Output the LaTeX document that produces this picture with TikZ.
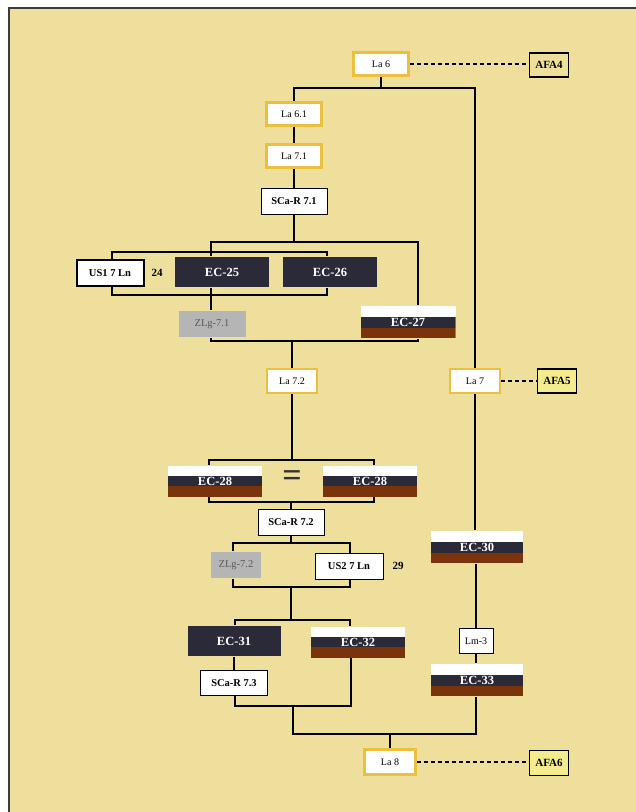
\documentclass[tikz,border=0pt]{standalone}
\usepackage{fontspec}
\setmainfont{Liberation Serif}
\definecolor{paper}{HTML}{EEE09C}
\definecolor{framegray}{HTML}{3C3C3C}
\definecolor{gold}{HTML}{EBC03E}
\definecolor{ecdark}{HTML}{2B2A38}
\definecolor{ecbrown}{HTML}{7A330A}
\definecolor{zgray}{HTML}{B5B5B5}
\definecolor{afafill}{HTML}{F4EC8E}
\begin{document}
\begin{tikzpicture}[x=1pt,y=-1pt,line width=1.2pt,
  labox/.style={draw=gold,line width=2.2pt,fill=white,minimum width=55pt,minimum height=23pt,font=\fontsize{10}{12}\selectfont},
  scabox/.style={draw=black,line width=1pt,fill=white,minimum width=66pt,minimum height=26pt,font=\fontsize{10.5}{12}\selectfont\bfseries},
  usbox/.style={draw=black,line width=1pt,fill=white,minimum width=67pt,minimum height=26pt,font=\fontsize{10.5}{12}\selectfont\bfseries},
  zlgbox/.style={fill=zgray,minimum width=67pt,minimum height=26pt,text=black!65,font=\fontsize{10.5}{12}\selectfont},
  afabox/.style={draw=black,line width=1.2pt,fill=afafill,minimum width=39pt,minimum height=24pt,font=\fontsize{11}{12}\selectfont\bfseries},
  ecdarkbox/.style={fill=ecdark,minimum width=94pt,minimum height=30pt,text=white,font=\fontsize{12.5}{14}\selectfont\bfseries},
  ecstripe/.style={fill=white,minimum width=94pt,minimum height=32pt,text=white,text height=8pt,text depth=0pt,
    font=\fontsize{12.5}{14}\selectfont\bfseries,
    path picture={
      \fill[ecbrown] (path picture bounding box.south west) rectangle ([yshift=10.5pt]path picture bounding box.south east);
      \fill[ecdark] ([yshift=10.5pt]path picture bounding box.south west) rectangle ([yshift=21pt]path picture bounding box.south east);}},
  numlabel/.style={font=\fontsize{11}{12}\selectfont\bfseries},
  link/.style={line width=1.4pt,dash pattern=on 4pt off 3pt}]
\tikzstyle{every node}+=[inner sep=0pt]
\useasboundingbox (0,0) rectangle (636,812);
\fill[white] (0,0) rectangle (636,812);
\fill[paper] (9,8) rectangle (636,812);
\draw[framegray,line width=2pt] (9,812) -- (9,8) -- (636,8);
% right column
\node[labox] (la6) at (381,64) {La 6};
\node[afabox,fill=paper] (afa4) at (549,65) {AFA4};
\node[labox,minimum width=50pt,minimum height=24pt] (la7) at (475,381) {La 7};
\node[afabox] (afa5) at (557,381) {AFA5};
\node[ecstripe,minimum width=92pt] (ec30) at (477,547) {EC-30};
\node[usbox,minimum width=34pt,minimum height=25pt,font=\fontsize{10}{12}\selectfont] (lm3) at (476,641) {Lm-3};
\node[ecstripe,minimum width=92pt] (ec33) at (477,680) {EC-33};
% left column
\node[labox] (la61) at (294,114) {La 6.1};
\node[labox] (la71) at (294,156) {La 7.1};
\node[scabox] (scar71) at (294,201) {SCa-R 7.1};
\node[usbox,line width=2pt] (us1) at (110,273) {US1 7 Ln};
\node[numlabel] (n24) at (157,273) {24};
\node[ecdarkbox] (ec25) at (222,272) {EC-25};
\node[ecdarkbox] (ec26) at (330,272) {EC-26};
\node[zlgbox] (zlg71) at (212,324) {ZLg-7.1};
\node[ecstripe,minimum width=95pt] (ec27) at (408,322) {EC-27};
\node[labox,minimum width=50pt,minimum height=24pt] (la72) at (292,381) {La 7.2};
\node[ecstripe,minimum height=31pt] (ec28a) at (215,481) {EC-28};
\node[font=\fontsize{34}{34}\selectfont\bfseries,text=black!80] (eq) at (292,479) {=};
\node[ecstripe,minimum height=31pt] (ec28b) at (370,481) {EC-28};
\node[scabox] (scar72) at (291,522) {SCa-R 7.2};
\node[zlgbox,minimum width=50pt] (zlg72) at (236,565) {ZLg-7.2};
\node[usbox,minimum width=68pt] (us2) at (349,566) {US2 7 Ln};
\node[numlabel] (n29) at (398,566) {29};
\node[ecdarkbox,minimum width=93pt] (ec31) at (234,641) {EC-31};
\node[ecstripe,minimum height=31pt] (ec32) at (358,642) {EC-32};
\node[scabox,minimum width=67pt,minimum height=25pt] (scar73) at (234,683) {SCa-R 7.3};
\node[labox,minimum width=51pt,minimum height=25pt] (la8) at (390,762) {La 8};
\node[afabox,minimum height=25pt] (afa6) at (549,763) {AFA6};
% bracket corners
\coordinate (split) at (381,88);
\coordinate (g1nw) at (211,242); \coordinate (g1ne) at (418,242);
\coordinate (g1sw) at (211,341); \coordinate (g1se) at (418,341);
\coordinate (b1nw) at (112,252); \coordinate (b1ne) at (327,252);
\coordinate (b1sw) at (112,295); \coordinate (b1se) at (327,295);
\coordinate (g2nw) at (209,460); \coordinate (g2ne) at (374,460);
\coordinate (g2sw) at (209,502); \coordinate (g2se) at (374,502);
\coordinate (g3nw) at (233,543); \coordinate (g3ne) at (350,543);
\coordinate (g3sw) at (233,587); \coordinate (g3se) at (350,587);
\coordinate (g4nw) at (235,620); \coordinate (g4ne) at (350,620);
\coordinate (g5sw) at (235,706); \coordinate (g5se) at (351,706);
\coordinate (g6w) at (293,734); \coordinate (g6e) at (476,734);
% connectors
\draw[link] (la6.east) -- (afa4.west |- la6.east);
\draw[link] (la7) -- (afa5);
\draw[link] (la8.east) -- (afa6.west |- la8.east);
\draw (la6.south) -- (split);
\draw (la61.north) |- (split) -| (la7.north);
\draw (la7) -- (ec30.north -| la7);
\draw (ec30.south -| lm3) -- (lm3);
\draw (lm3) -- (ec33.north -| lm3);
\draw (la61) -- (la71);
\draw (la71) -- (scar71);
\draw (scar71) -- (scar71 |- g1nw);
\draw (ec25.north -| g1nw) -- (g1nw) -- (g1ne) -- (ec27.north -| g1ne);
\draw (us1.north -| b1nw) -- (b1nw) -- (b1ne) -- (ec26.north -| b1ne);
\draw (us1.south -| b1nw) -- (b1sw) -- (b1se) -- (ec26.south -| b1ne);
\draw (ec25.south -| g1nw) -- (zlg71.north -| g1nw);
\draw (zlg71.south -| g1nw) -- (g1sw) -- (g1se) -- (ec27.south -| g1ne);
\draw (la72.north |- g1sw) -- (la72);
\draw (la72) -- (la72 |- g2nw);
\draw (ec28a.north -| g2nw) -- (g2nw) -- (g2ne) -- (ec28b.north -| g2ne);
\draw (ec28a.south -| g2nw) -- (g2sw) -- (g2se) -- (ec28b.south -| g2ne);
\draw (scar72 |- g2sw) -- (scar72);
\draw (scar72) -- (scar72 |- g3nw);
\draw (zlg72.north -| g3nw) -- (g3nw) -- (g3ne) -- (us2.north -| g3ne);
\draw (zlg72.south -| g3nw) -- (g3sw) -- (g3se) -- (us2.south -| g3ne);
\draw (scar72 |- g3sw) -- (scar72 |- g4nw);
\draw (ec31.north -| g4nw) -- (g4nw) -- (g4ne) -- (ec32.north -| g4ne);
\draw (ec31) -- (scar73);
\draw (scar73.south -| g5sw) -- (g5sw) -- (g5se) -- (ec32.south -| g5se);
\draw (g5sw -| g6w) -- (g6w) -- (g6e) -- (ec33.south -| g6e);
\draw (la8.north |- g6w) -- (la8);
\end{tikzpicture}
\end{document}
